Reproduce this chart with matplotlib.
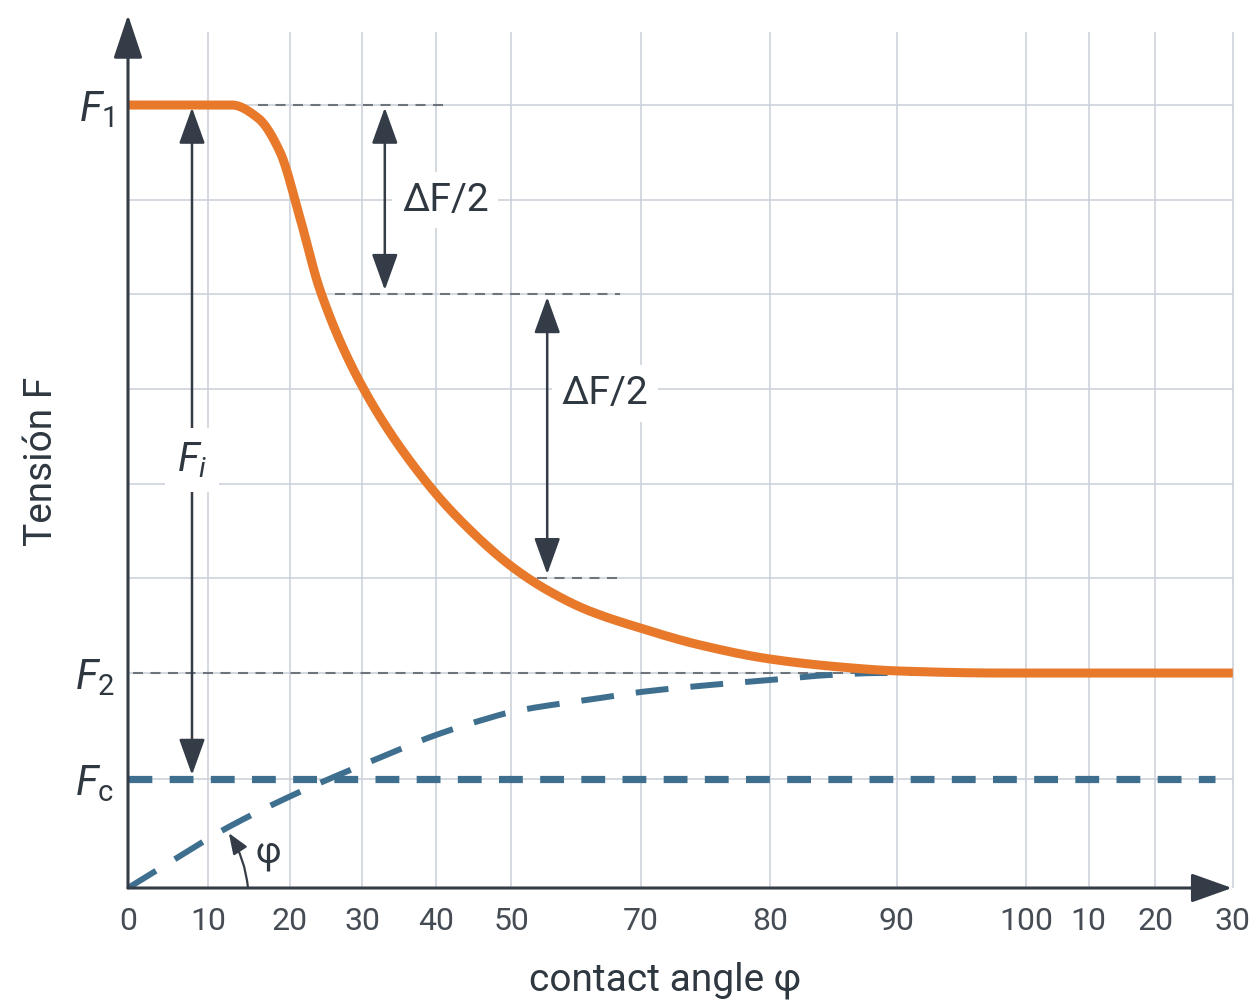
import numpy as np
import matplotlib
matplotlib.use("Agg")
import matplotlib.pyplot as plt
from matplotlib.patches import FancyArrowPatch

plt.rcParams['font.family'] = ['Roboto', 'DejaVu Sans']
plt.rcParams['mathtext.fontset'] = 'custom'
plt.rcParams['mathtext.rm'] = 'Roboto'
plt.rcParams['mathtext.it'] = 'Roboto:italic'
plt.rcParams['mathtext.bf'] = 'Roboto:bold'

# Achse x: Positionen der Teilstriche (ungleichmäßig, wie im Bild) und Beschriftungen
x_pos = [0, 10, 20.25, 29.25, 38.5, 47.9, 64.1, 80.25, 96.1, 112.25, 120.1, 128.4, 138.1]
x_labels = ['0', '10', '20', '30', '40', '50', '70', '80', '90', '100', '10', '20', '30']

# Kraftniveaus
F1 = 8.27
F2 = 2.27
Fc = 1.15
grid_y = [Fc, 2.27, 3.27, 4.27, 5.27, 6.27, 7.27, 8.27]

curve_x = [0, 13.0, 16.25, 19.0, 21.5, 24.0, 29.25, 37.375, 42.375, 47.875, 52.375,
           57.375, 64.0, 71.5, 80.25, 89.0, 96.5, 109.0, 138.1]
curve_y = [8.268, 8.268, 8.131, 7.772, 7.075, 6.315, 5.301, 4.277, 3.812, 3.400, 3.147,
           2.936, 2.746, 2.566, 2.418, 2.334, 2.291, 2.27, 2.27]

# Blaue gestrichelte Kurve
blue_x = [0, 5.875, 11.875, 20.625, 29.875, 38.5, 45.125, 47.875, 59.0, 64.125,
          74.125, 80.25, 87.625, 94.0, 104.0]
blue_y = [0, 0.306, 0.612, 0.982, 1.320, 1.616, 1.795, 1.858, 2.006, 2.070,
          2.154, 2.196, 2.249, 2.27, 2.27]

orange = '#e8792b'
blue = '#3f6f8f'
dark = '#343d47'
gridc = '#c9d0d7'
grayd = '#6e747b'
txt = '#2f3740'


def pchip(x, y, xn):
    # monotone kubische Interpolation (Fritsch-Carlson) zum Glätten der Punkte
    x = np.asarray(x, float)
    y = np.asarray(y, float)
    h = np.diff(x)
    d = np.diff(y) / h
    m = np.zeros_like(y)
    m[0], m[-1] = d[0], d[-1]
    for k in range(1, len(x) - 1):
        if d[k - 1] * d[k] > 0:
            w1 = 2 * h[k] + h[k - 1]
            w2 = h[k] + 2 * h[k - 1]
            m[k] = (w1 + w2) / (w1 / d[k - 1] + w2 / d[k])
    i = np.clip(np.searchsorted(x, xn) - 1, 0, len(x) - 2)
    t = (xn - x[i]) / h[i]
    h00 = 2 * t**3 - 3 * t**2 + 1
    h10 = t**3 - 2 * t**2 + t
    h01 = -2 * t**3 + 3 * t**2
    h11 = t**3 - t**2
    return h00 * y[i] + h10 * h[i] * m[i] + h01 * y[i + 1] + h11 * h[i] * m[i + 1]


fig = plt.figure(figsize=(12.57, 10.06), dpi=100)
ax = fig.add_axes([128 / 1257, (1006 - 888) / 1006, 1120 / 1257, 880.7 / 1006])
ax.set_xlim(0, 140)
ax.set_ylim(0, 9.3)
for s in ax.spines.values():
    s.set_visible(False)

# Gitter
ax.vlines(x_pos[1:], 0, 9.04, color=gridc, lw=1.1, zorder=1)
ax.hlines(grid_y, 0, 138.1, color=gridc, lw=1.1, zorder=1)

# dünne gestrichelte Hilfslinien
hl = dict(color=grayd, lw=1.5, linestyle=(0, (4.8, 3.6)), zorder=2)
ax.plot([16.25, 39.6], [F1, F1], **hl)
ax.plot([25.9, 61.5], [6.27, 6.27], **hl)
ax.plot([51.1, 61.5], [3.27, 3.27], **hl)
ax.plot([0.6, 104], [F2, F2], **hl)

# Fc Linie und blaue Kurve
ax.plot([0, 135.9], [Fc, Fc], color=blue, lw=5.2, linestyle=(0, (3.3, 2.4)), zorder=3)
bx = np.linspace(blue_x[0], blue_x[-1], 400)
ax.plot(bx, pchip(blue_x, blue_y, bx), color=blue, lw=4.3,
        linestyle=(0, (5.5, 3.7)), zorder=3)

# orange Kurve
cx = np.linspace(curve_x[0], curve_x[-1], 800)
ax.plot(cx, pchip(curve_x, curve_y, cx), color=orange, lw=6.5, solid_capstyle='butt',
        solid_joinstyle='round', zorder=4)

# Achsen mit Pfeilen
ax.annotate('', xy=(0, 9.22), xytext=(0, 0),
            arrowprops=dict(arrowstyle='-|>,head_length=1.5,head_width=0.5',
                            mutation_scale=18, color=dark, lw=2.2, shrinkA=0, shrinkB=0),
            zorder=6)
ax.annotate('', xy=(138.0, 0), xytext=(0, 0),
            arrowprops=dict(arrowstyle='-|>,head_length=1.4,head_width=0.5',
                            mutation_scale=18, color=dark, lw=2.2, shrinkA=0, shrinkB=0),
            zorder=6)

# Doppelpfeile
dbl = dict(arrowstyle='<|-|>,head_length=1.25,head_width=0.45', mutation_scale=18,
           color=dark, lw=1.8, shrinkA=3, shrinkB=2)
ax.annotate('', xy=(8.0, F1), xytext=(8.0, Fc), arrowprops=dbl, zorder=5)
ax.annotate('', xy=(32.1, F1), xytext=(32.1, 6.27), arrowprops=dbl, zorder=5)
ax.annotate('', xy=(52.4, 6.27), xytext=(52.4, 3.27), arrowprops=dbl, zorder=5)

# Winkelbogen
arc = FancyArrowPatch((15.0, 0.0), (12.6, 0.58),
                      connectionstyle='arc3,rad=0.12',
                      arrowstyle='-|>,head_length=0.9,head_width=0.35',
                      mutation_scale=14, color=dark, lw=1.6, shrinkA=0, shrinkB=0, zorder=5)
ax.add_patch(arc)

box = dict(boxstyle='square,pad=0.25', fc='white', ec='none')
ax.text(34.25, 7.265, 'ΔF/2', fontsize=28, color=txt, ha='left', va='center',
        bbox=box, zorder=6)
ax.text(59.6, 5.22, 'ΔF/2', fontsize=28, color=txt, ha='center', va='center',
        bbox=box, zorder=6)
ax.text(8.0, 4.52, '$F_i$', fontsize=29, color=txt, ha='center', va='center',
        bbox=dict(boxstyle='square,pad=0.3', fc='white', ec='none'), zorder=7)
ax.text(17.5, 0.37, 'φ', fontsize=26, color=txt, ha='center', va='center', zorder=6)

# Teilstriche
ax.set_xticks(x_pos, x_labels)
ax.set_yticks([Fc, F2, F1], ['$F_\\mathrm{c}$', '$F_2$', '$F_1$'])
ax.tick_params(axis='x', length=0, pad=14, labelsize=23, labelcolor='#454c54')
ax.tick_params(axis='y', length=0, pad=10, labelsize=30, labelcolor=txt)

fig.text(42 / 1257, 1 - 461 / 1006, 'Tensión F', rotation=90, fontsize=28,
         color=txt, ha='center', va='center')
fig.text(665 / 1257, 1 - 980 / 1006, 'contact angle φ', fontsize=28,
         color=txt, ha='center', va='center')

fig.savefig('out.png', dpi=100, facecolor='white')
